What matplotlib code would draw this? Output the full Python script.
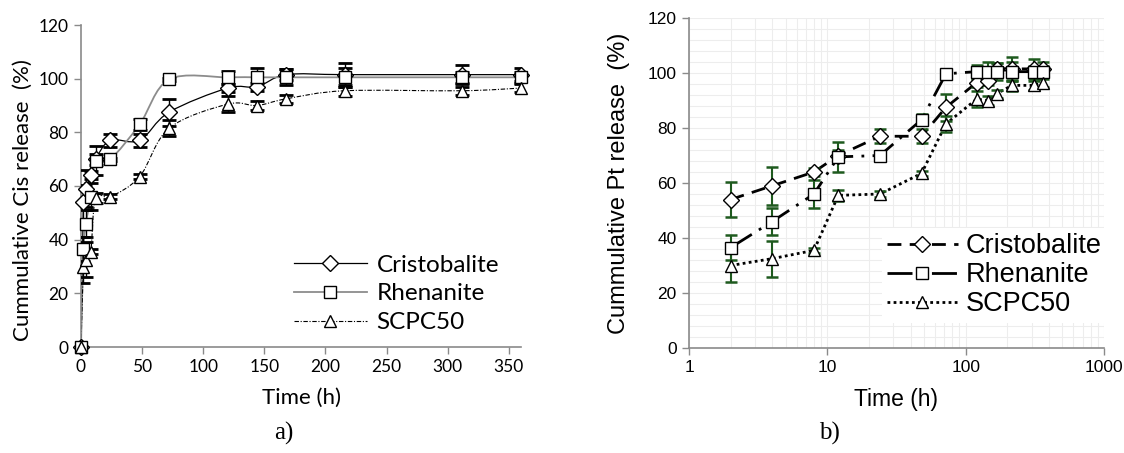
import matplotlib
matplotlib.use("Agg")
import matplotlib.pyplot as plt
import numpy as np
from matplotlib.lines import Line2D
from matplotlib.patches import PathPatch
from matplotlib.path import Path
from matplotlib.ticker import FixedLocator, NullFormatter

# time points (h)
time_h = [0, 2, 4, 8, 12, 24, 48, 72, 120, 144, 168, 216, 312, 360]

cris = [0, 54, 59, 64, 70, 77, 77, 87.5, 96.5, 97, 101.5, 101.5, 101.5, 101.5]
cris_err = [0, 6.5, 7, 1.5, 2, 2.5, 2.5, 5, 1.5, 1.5, 2, 4.5, 3.5, 2.5]

rhen = [0, 36.5, 46, 56, 69.5, 70, 83, 99.7, 100.5, 100.5, 100.5, 100.5, 100.5, 100.5]
rhen_err = [0, 4.5, 5, 5, 5.5, 0.5, 2, 0.5, 2.5, 3.5, 3, 3.5, 2, 2]

scpc = [0, 30, 32.5, 35.5, 55.5, 56, 63.5, 81.5, 90.5, 90, 92.5, 95.5, 95.5, 96.5]
scpc_err = [0, 6, 6.5, 1, 2, 1, 1, 3, 3, 1.5, 1.5, 2, 1.5, 1.5]

names = ["Cristobalite", "Rhenanite", "SCPC50"]

LEFT_FONT = "Lato"
RIGHT_FONT = "Liberation Sans"


def smooth_path(xs, ys):
    """Excel-like smoothed line through the points (cubic Bezier)."""
    pts = np.column_stack([xs, ys]).astype(float)
    n = len(pts)
    verts = [pts[0]]
    codes = [Path.MOVETO]
    for i in range(n - 1):
        p0 = pts[i - 1] if i > 0 else pts[i]
        p1 = pts[i]
        p2 = pts[i + 1]
        p3 = pts[i + 2] if i + 2 < n else pts[i + 1]
        c1 = p1 + (p2 - p0) / 6.0
        c2 = p2 - (p3 - p1) / 6.0
        verts += [c1, c2, p2]
        codes += [Path.CURVE4] * 3
    return Path(verts, codes)


fig = plt.figure(figsize=(11.24, 4.53), dpi=100)

# ---------------- a) linear time axis ----------------
ax1 = fig.add_axes([81 / 1124, 106 / 453, 440 / 1124, 322 / 453])

left_styles = [
    dict(color="black", lw=0.9, ls="-", marker="D", ms=8.5),
    dict(color="#8c8c8c", lw=1.3, ls="-", marker="s", ms=9),
    dict(color="black", lw=0.8, ls=(0, (4, 1.5, 1, 1.5)), marker="^", ms=9),
]
series = [(cris, cris_err), (rhen, rhen_err), (scpc, scpc_err)]

for (vals, errs), st in zip(series, left_styles):
    ax1.add_patch(PathPatch(smooth_path(time_h, vals), fill=False,
                            edgecolor=st["color"], lw=st["lw"],
                            linestyle=st["ls"], zorder=2))
for (vals, errs), st in zip(series, left_styles):
    ax1.errorbar(time_h, vals, yerr=errs, fmt="none", ecolor="black",
                 elinewidth=1.0, capsize=5, capthick=2, zorder=3)
    ax1.plot(time_h, vals, ls="none", marker=st["marker"], ms=st["ms"],
             mfc="white", mec="black", mew=1.0, zorder=4, clip_on=False)

ax1.set_xlim(0, 360)
ax1.set_ylim(0, 120)
ax1.set_xticks(range(0, 351, 50))
ax1.set_yticks(range(0, 121, 20))
for side in ["top", "right"]:
    ax1.spines[side].set_visible(False)
for side in ["left", "bottom"]:
    ax1.spines[side].set_color("#8a8a8a")
    ax1.spines[side].set_linewidth(1.2)
ax1.tick_params(direction="out", length=5, color="#8a8a8a", width=1,
                labelsize=12.5, pad=4)
for lab in ax1.get_xticklabels() + ax1.get_yticklabels():
    lab.set_family(LEFT_FONT)
ax1.set_xlabel("Time (h)", fontsize=16, family=LEFT_FONT, labelpad=9)
ax1.set_ylabel("Cummulative Cis release  (%)", fontsize=16,
               family=LEFT_FONT)
ax1.yaxis.set_label_coords(-0.109, 0.455)

handles1 = [Line2D([], [], color=st["color"], lw=st["lw"], ls=st["ls"],
                   marker=st["marker"], ms=st["ms"], mfc="white",
                   mec="black", mew=1.0) for st in left_styles]
ax1.legend(handles1, names, loc="lower right", frameon=False,
           prop={"family": LEFT_FONT, "size": 17.5}, handlelength=3.0,
           labelspacing=0.32, handletextpad=0.4,
           bbox_to_anchor=(1.0, -0.025))

# ---------------- b) log time axis ----------------
ax2 = fig.add_axes([689 / 1124, 105 / 453, 415 / 1124, 330 / 453])

right_styles = [
    dict(ls=(0, (5, 3)), marker="D", ms=8),
    dict(ls=(0, (9, 3, 1, 3)), marker="s", ms=8.5),
    dict(ls=(0, (1, 1.2)), marker="^", ms=8.5),
]
t_log = time_h[1:]
for (vals, errs), st in zip(series, right_styles):
    ax2.plot(t_log, vals[1:], color="black", lw=2.0, ls=st["ls"], zorder=2)
for (vals, errs), st in zip(series, right_styles):
    ax2.errorbar(t_log, vals[1:], yerr=errs[1:], fmt="none",
                 ecolor="#1e5a1e", elinewidth=1.5, capsize=4.5,
                 capthick=1.8, zorder=3)
    ax2.plot(t_log, vals[1:], ls="none", marker=st["marker"], ms=st["ms"],
             mfc="white", mec="black", mew=1.0, zorder=4)

ax2.set_xscale("log")
ax2.set_xlim(1, 1000)
ax2.set_ylim(0, 120)
ax2.set_xticks([1, 10, 100, 1000])
ax2.set_xticklabels(["1", "10", "100", "1000"])
ax2.set_yticks(range(0, 121, 20))
ax2.yaxis.set_minor_locator(FixedLocator(np.arange(0, 121, 4)))
ax2.xaxis.set_minor_formatter(NullFormatter())
ax2.grid(True, which="both", color="#ededed", lw=0.8, zorder=0)
ax2.set_axisbelow(True)
for side in ["top", "right"]:
    ax2.spines[side].set_visible(False)
for side in ["left", "bottom"]:
    ax2.spines[side].set_color("#8a8a8a")
    ax2.spines[side].set_linewidth(1.2)
ax2.tick_params(which="major", direction="out", length=5, color="#8a8a8a",
                width=1, labelsize=12.5, pad=4)
ax2.tick_params(which="minor", length=0)
for lab in ax2.get_xticklabels() + ax2.get_yticklabels():
    lab.set_family(RIGHT_FONT)
ax2.set_xlabel("Time (h)", fontsize=16.5, family=RIGHT_FONT, labelpad=9)
ax2.set_ylabel("Cummulative Pt release  (%)", fontsize=17,
               family=RIGHT_FONT)
ax2.yaxis.set_label_coords(-0.142, 0.5)

handles2 = [Line2D([], [], color="black", lw=2.0, ls=st["ls"],
                   marker=st["marker"], ms=st["ms"], mfc="white",
                   mec="black", mew=1.0) for st in right_styles]
leg2 = ax2.legend(handles2, names, loc="lower right", frameon=True,
                  prop={"family": RIGHT_FONT, "size": 19.5}, handlelength=2.6,
                  labelspacing=0.12, handletextpad=0.3, borderpad=0.2,
                  fancybox=False, bbox_to_anchor=(1.04, 0.035))
leg2.get_frame().set_edgecolor("none")
leg2.get_frame().set_facecolor("white")
leg2.get_frame().set_alpha(1)

fig.text(284 / 1124, 1 - 433 / 453, "a)", ha="center", va="center",
         fontsize=18, family="Liberation Serif")
fig.text(829 / 1124, 1 - 433 / 453, "b)", ha="center", va="center",
         fontsize=18, family="Liberation Serif")

fig.savefig("out.png", dpi=100)
